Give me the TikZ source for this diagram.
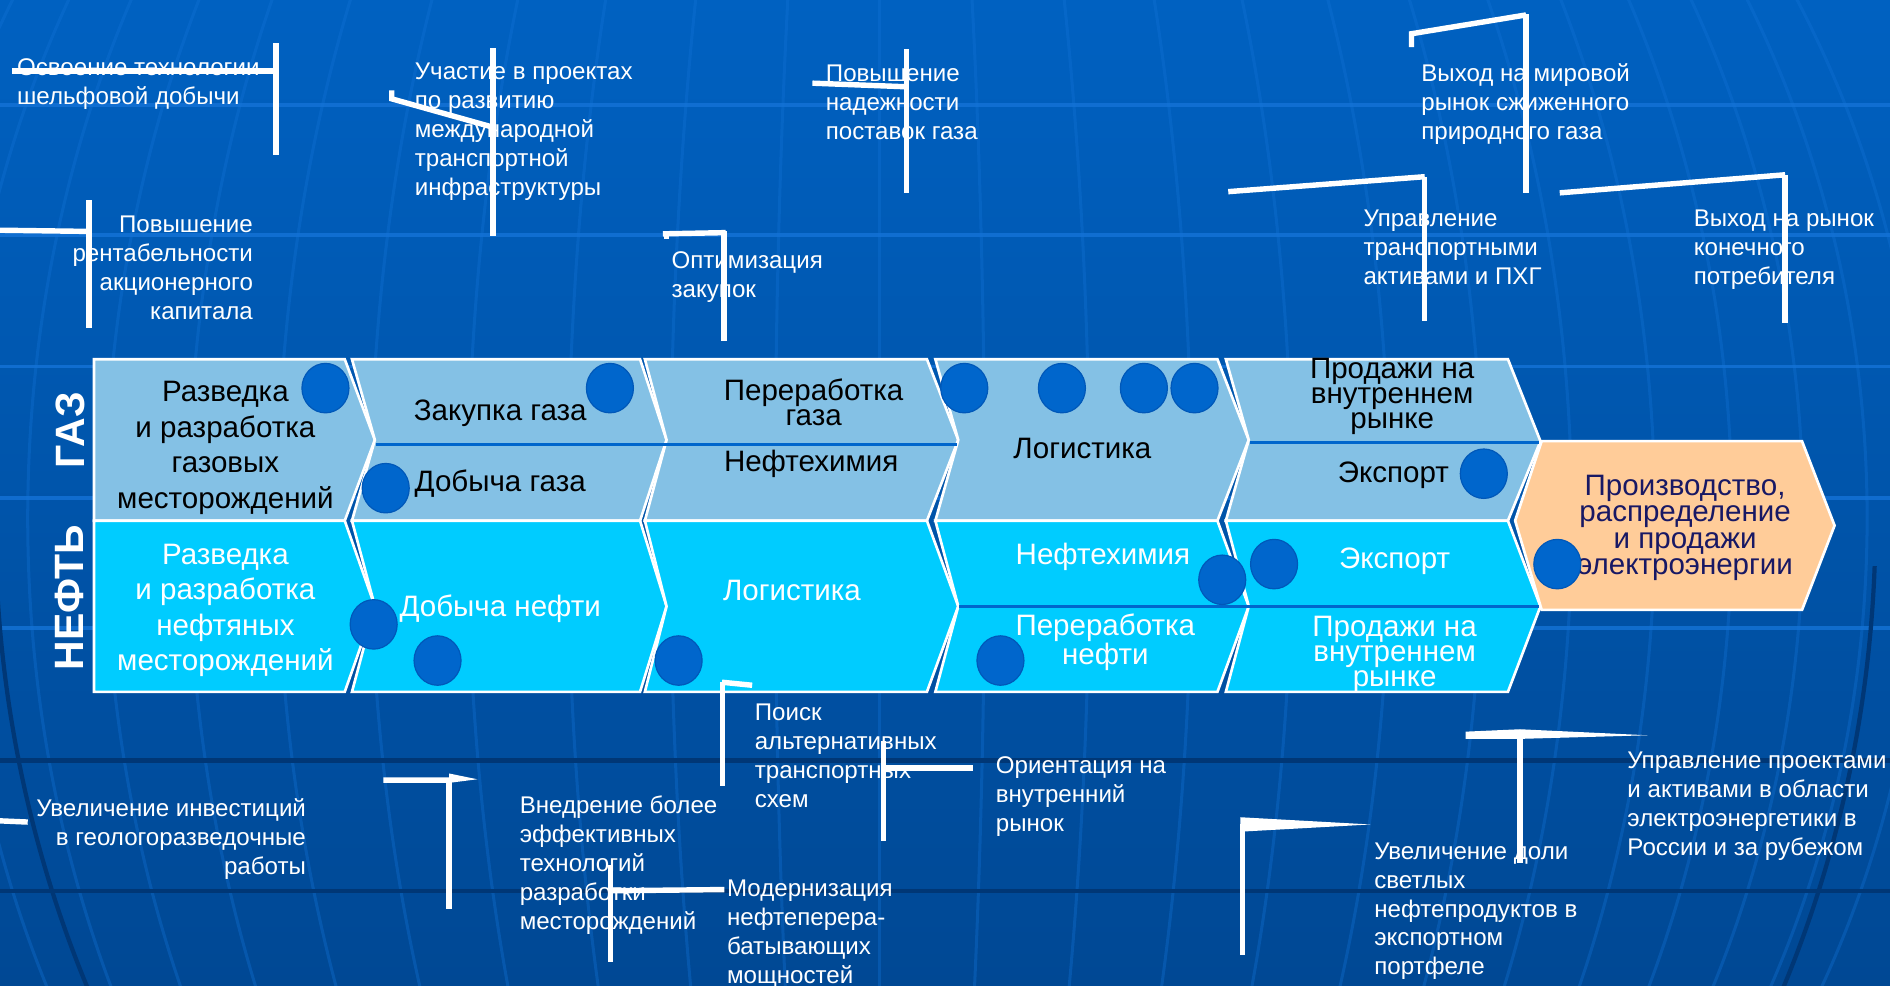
\documentclass[tikz,border=0pt]{standalone}
\usepackage{fontspec}
\setmainfont{Liberation Sans}
\definecolor{bgtop}{RGB}{0,97,193}
\definecolor{bgbot}{RGB}{0,72,148}
\definecolor{gridlt}{RGB}{20,115,215}
\definecolor{griddk}{RGB}{0,55,118}
\definecolor{gasc}{RGB}{132,193,229}
\definecolor{oilc}{RGB}{0,204,255}
\definecolor{orc}{RGB}{255,204,153}
\definecolor{dotc}{RGB}{0,102,204}
\definecolor{dotedge}{RGB}{0,88,185}
\definecolor{divc}{RGB}{0,102,204}
\definecolor{navytxt}{RGB}{24,24,100}
\tikzset{
 box/.style={draw=white, line width=2.2pt, line join=miter},
 gasbox/.style={box, fill=gasc},
 oilbox/.style={box, fill=oilc},
 orbox/.style={box, fill=orc},
 divline/.style={draw=divc, line width=2.6pt},
 dotshape/.style={fill=dotc, draw=dotedge, line width=1pt},
 wline/.style={draw=white, line width=4.5pt},
 wfill/.style={fill=white},
 btxt/.style={font=\fontsize{24.5}{29.5}\selectfont, align=center, inner sep=0pt},
 btight/.style={font=\fontsize{24.5}{21}\selectfont, align=center, inner sep=0pt},
 ctxt/.style={font=\fontsize{20}{24}\selectfont, text=white, inner sep=0pt},
 sidetxt/.style={font=\fontsize{34}{40}\selectfont\bfseries, text=white, rotate=90, inner sep=0pt},
 meridian/.style={draw=gridlt, line width=2.5pt, opacity=0.35},
}
\newcommand{\dotat}[2]{\path[dotshape] (#1,#2) ellipse [x radius=19.5pt, y radius=20.5pt];}
\begin{document}
\begin{tikzpicture}[x=1pt,y=-1pt]
\useasboundingbox (0,0) rectangle (1568,818);
\begin{scope}
\clip (0,0) rectangle (1568,818);
\shade[top color=bgtop, bottom color=bgbot] (0,0) rectangle (1568,818);
% globe grid
\draw[meridian] (730,-20) -- (730,840);
\foreach \d in {87,174,259,342,423,500,574,643,707,766,819,866}
  \draw[meridian] (730,430) ellipse [x radius=\d pt, y radius=900pt];
\foreach \yy in {87,195,304,413,521}
  \draw[draw=gridlt, line width=3pt, opacity=0.8] (0,\yy) -- (1568,\yy);
\foreach \yy in {631,739}
  \draw[draw=griddk, line width=3.5pt] (0,\yy) -- (1568,\yy);
\begin{scope}
\clip (0,470) rectangle (1568,818);
\draw[draw=griddk, line width=3.5pt] (776,430) ellipse [x radius=780pt, y radius=900pt];
\end{scope}
\end{scope}

% chevrons: gas row
\path[gasbox] (78,298) -- (286,298) -- (311,365) -- (286,432) -- (78,432) -- cycle;
\path[gasbox] (292,298) -- (531,298) -- (553,365) -- (531,432) -- (292,432) -- (311,365) -- cycle;
\path[gasbox] (535,298) -- (769,298) -- (795,365) -- (769,432) -- (535,432) -- (553,365) -- cycle;
\path[gasbox] (776,298) -- (1010,298) -- (1036,365) -- (1010,432) -- (776,432) -- (795,365) -- cycle;
\path[gasbox] (1017,298) -- (1251,298) -- (1278,366) -- (1251,432) -- (1017,432) -- (1036,365) -- cycle;
% oil row
\path[oilbox] (78,432) -- (286,432) -- (311,503) -- (286,574) -- (78,574) -- cycle;
\path[oilbox] (292,432) -- (531,432) -- (553,503) -- (531,574) -- (292,574) -- (311,503) -- cycle;
\path[oilbox] (535,432) -- (769,432) -- (795,503) -- (769,574) -- (535,574) -- (553,503) -- cycle;
\path[oilbox] (776,432) -- (1010,432) -- (1036,503) -- (1010,574) -- (776,574) -- (795,503) -- cycle;
\path[oilbox] (1017,432) -- (1251,432) -- (1278,503) -- (1251,574) -- (1017,574) -- (1036,503) -- cycle;
% electricity
\path[orbox] (1279,366) -- (1495,366) -- (1522,436) -- (1495,506) -- (1279,506) -- (1257,432) -- cycle;

% dividers
\draw[divline] (312,369) -- (794,369);
\draw[divline] (1037,367) -- (1277,367);
\draw[divline] (796,503.5) -- (1277,503.5);

% side labels
\node[sidetxt] (gaz) at (58,357) {ГАЗ};
\node[sidetxt] (neft) at (58,496) {НЕФТЬ};

% box texts
\node[btxt] (g1) at (187,371.5) {Разведка\\и разработка\\газовых\\месторождений};
\node[btxt, text=white] (o1) at (187,506.5) {Разведка\\и разработка\\нефтяных\\месторождений};
\node[btxt] (g2a) at (415,343) {Закупка газа};
\node[btxt] (g2b) at (415,401) {Добыча газа};
\node[btxt, text=white] (o2) at (415,505) {Добыча нефти};
\node[btight] (g3a) at (675,334) {Переработка\\газа};
\node[btxt] (g3b) at (673,385) {Нефтехимия};
\node[btxt, text=white] (o3) at (657,490) {Логистика};
\node[btxt] (g4) at (898,372) {Логистика};
\node[btxt, text=white] (o4a) at (915,462) {Нефтехимия};
\node[btight, text=white] (o4b) at (917,533) {Переработка\\нефти};
\node[btight] (g5a) at (1155,329) {Продажи на\\внутреннем\\рынке};
\node[btxt] (g5b) at (1156,394) {Экспорт};
\node[btxt, text=white] (o5a) at (1157,466) {Экспорт};
\node[btight, text=white] (o5b) at (1157,543) {Продажи на\\внутреннем\\рынке};
\node[font=\fontsize{24.5}{22}\selectfont, align=center, inner sep=0pt, text=navytxt] (el) at (1398,438) {Производство,\\распределение\\и продажи\\электроэнергии};

% dots
\dotat{270}{322}
\dotat{506}{322}
\dotat{320}{405}
\dotat{800}{322}
\dotat{881}{322}
\dotat{949}{322}
\dotat{991}{322}
\dotat{1231}{393}
\dotat{1057}{468}
\dotat{1014}{481}
\dotat{1292}{468}
\dotat{310}{518}
\dotat{363}{548}
\dotat{563}{548}
\dotat{830}{548}

% callout texts
\node[ctxt, anchor=west, align=left] (c1) at (14,70) {Освоение технологии\\шельфовой добычи};
\node[ctxt, anchor=west, align=left] (c2) at (344,109.5) {Участие в проектах\\по развитию\\международной\\транспортной\\инфраструктуры};
\node[ctxt, anchor=east, align=right] (c3) at (210,222) {Повышение\\рентабельности\\акционерного\\капитала};
\node[ctxt, anchor=west, align=left] (c4) at (685,85) {Повышение\\надежности\\поставок газа};
\node[ctxt, anchor=west, align=left] (c5) at (557,230) {Оптимизация\\закупок};
\node[ctxt, anchor=west, align=left] (c6) at (1179,86) {Выход на мировой\\рынок сжиженного\\природного газа};
\node[ctxt, anchor=west, align=left] (c7) at (1131,205) {Управление\\транспортными\\активами и ПХГ};
\node[ctxt, anchor=west, align=left] (c8) at (1405,207.5) {Выход на рынок\\конечного\\потребителя};
\node[ctxt, anchor=east, align=right] (c9) at (254,696) {Увеличение инвестиций\\в геологоразведочные\\работы};
\node[ctxt, anchor=west, align=left] (c10) at (431,718) {Внедрение более\\эффективных\\технологий\\разработки\\месторождений};
\node[ctxt, anchor=west, align=left] (c11) at (603,775) {Модернизация\\нефтеперера-\\батывающих\\мощностей};
\node[ctxt, anchor=west, align=left] (c12) at (626,627) {Поиск\\альтернативных\\транспортных\\схем};
\node[ctxt, anchor=west, align=left] (c13) at (826,661) {Ориентация на\\внутренний\\рынок};
\node[ctxt, anchor=west, align=left] (c14) at (1140,756) {Увеличение доли\\светлых\\нефтепродуктов в\\экспортном\\портфеле};
\node[ctxt, anchor=west, align=left] (c15) at (1350,669) {Управление проектами\\и активами в области\\электроэнергетики в\\России и за рубежом};

% white bracket lines
\draw[wline] (229,36) -- (229,129);
\draw[wline] (10,59) -- (229,59);
\draw[wline] (409,40) -- (409,196);
\draw[wline] (325,75) -- (325,82) -- (407,105);
\draw[wline] (74,166) -- (74,272);
\draw[wline] (0,191) -- (74,192);
\draw[wline] (752,41) -- (752,160);
\draw[wline] (674,69) -- (752,72);
\draw[wline] (600.5,192) -- (600.5,283);
\draw[wline] (550,194) -- (602,193);
\draw[wline] (553,193) -- (553,198);
\draw[wline] (1266,12) -- (1266,160);
\draw[wline] (1171,39) -- (1171,28) -- (1266,12.4);
\draw[wline] (1182,147) -- (1182,266);
\draw[wline] (1019,159) -- (1182,146.6);
\draw[wline] (1481,145) -- (1481,268);
\draw[wline] (1294,160) -- (1481,145);
\draw[wline] (0,681) -- (23,682);
\draw[wline] (372.6,647) -- (372.6,754);
\path[wfill] (318,645) -- (372.6,645) -- (372.6,641.7) -- (396,646.5) -- (372.6,649.5) -- (318,649.5) -- cycle;
\draw[wline] (506.5,718) -- (506.5,798);
\draw[wline] (506.5,739) -- (601,738);
\draw[wline] (599.5,566) -- (599.5,652);
\draw[wline] (599,566) -- (624,568.5);
\draw[wline] (733,615) -- (733,698);
\draw[wline] (733,637) -- (807,637);
\draw[wline] (1031,684) -- (1031,792);
\path[wfill] (1029,678) -- (1137,684) -- (1029,690) -- cycle;
\draw[wline] (1261,607) -- (1261,716);
\path[wfill] (1216,607) -- (1261,605) -- (1367,610) -- (1261,613) -- (1216,613) -- cycle;
\end{tikzpicture}
\end{document}
